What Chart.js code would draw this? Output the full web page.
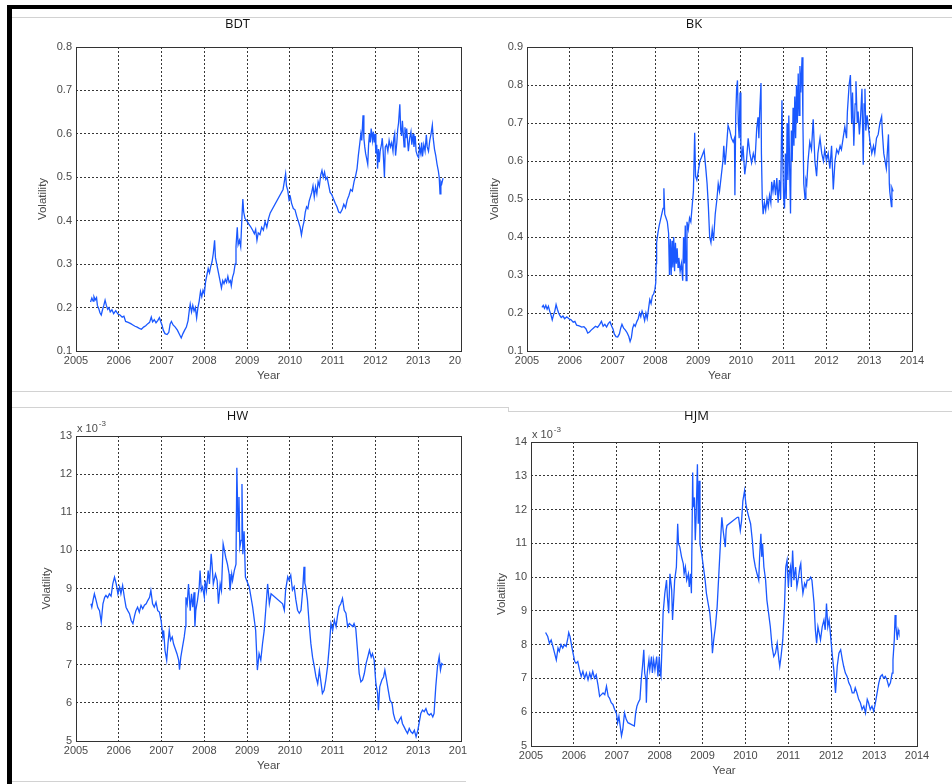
<!DOCTYPE html>
<html>
<head>
<meta charset="utf-8">
<script src="https://cdn.jsdelivr.net/npm/chart.js@4.4.1/dist/chart.umd.min.js"></script>
<style>
  html, body { margin: 0; padding: 0; background: #fff; }
  body { width: 952px; height: 784px; position: relative; overflow: hidden; }
  .bar { position: absolute; background: #000; }
  .rule { position: absolute; background: #d2d2d2; }
  .panel { position: absolute; overflow: hidden; }
  canvas { display: block; }
</style>
</head>
<body>
<!-- outer frame and separators of the composite figure -->
<div class="bar" style="left:7px;top:5px;width:945px;height:4px"></div>
<div class="bar" style="left:7px;top:5px;width:5px;height:779px"></div>
<div class="rule" style="left:12px;top:17px;width:940px;height:1px"></div>
<div class="rule" style="left:12px;top:391px;width:940px;height:1px"></div>
<div class="rule" style="left:12px;top:407px;width:496px;height:1px"></div>
<div class="rule" style="left:508px;top:407px;width:1px;height:5px"></div>
<div class="rule" style="left:508px;top:411px;width:444px;height:1px"></div>
<div class="rule" style="left:12px;top:781px;width:454px;height:1px"></div>

<div class="panel" style="left:14px;top:10px;width:448px;height:380px"><canvas id="cBDT" width="475" height="380"></canvas></div>
<div class="panel" style="left:476px;top:10px;width:475px;height:380px"><canvas id="cBK" width="475" height="380"></canvas></div>
<div class="panel" style="left:14px;top:400px;width:453px;height:380px"><canvas id="cHW" width="480" height="380"></canvas></div>
<div class="panel" style="left:476px;top:400px;width:465px;height:384px"><canvas id="cHJM" width="465" height="385"></canvas></div>

<script>
// ---- BDT volatility ----
const bdtYears = [2005.34,2005.37,2005.40,2005.42,2005.45,2005.48,2005.50,2005.53,2005.56,2005.59,2005.62,2005.65,2005.68,2005.71,2005.74,2005.77,2005.80,2005.84,2005.88,2005.93,2005.98,2006.03,2006.08,2006.12,2006.16,2006.22,2006.28,2006.33,2006.38,2006.43,2006.48,2006.53,2006.58,2006.63,2006.68,2006.72,2006.76,2006.79,2006.83,2006.87,2006.91,2006.95,2006.98,2007.01,2007.04,2007.08,2007.13,2007.17,2007.20,2007.23,2007.27,2007.32,2007.37,2007.42,2007.46,2007.50,2007.54,2007.58,2007.62,2007.65,2007.67,2007.70,2007.73,2007.76,2007.79,2007.82,2007.85,2007.88,2007.91,2007.94,2007.97,2008.00,2008.03,2008.06,2008.09,2008.12,2008.15,2008.18,2008.21,2008.24,2008.26,2008.29,2008.32,2008.35,2008.38,2008.40,2008.43,2008.46,2008.49,2008.52,2008.55,2008.58,2008.61,2008.63,2008.66,2008.69,2008.72,2008.74,2008.77,2008.79,2008.82,2008.85,2008.88,2008.90,2008.92,2008.95,2008.99,2009.04,2009.09,2009.13,2009.17,2009.20,2009.23,2009.26,2009.30,2009.34,2009.38,2009.42,2009.46,2009.50,2009.54,2009.84,2009.87,2009.90,2009.92,2009.95,2009.98,2010.01,2010.04,2010.08,2010.12,2010.16,2010.20,2010.24,2010.27,2010.30,2010.33,2010.36,2010.39,2010.42,2010.45,2010.48,2010.51,2010.54,2010.57,2010.60,2010.63,2010.66,2010.69,2010.72,2010.75,2010.78,2010.81,2010.84,2010.87,2010.90,2010.94,2010.98,2011.02,2011.06,2011.10,2011.14,2011.18,2011.22,2011.26,2011.30,2011.34,2011.38,2011.42,2011.46,2011.50,2011.54,2011.57,2011.60,2011.63,2011.66,2011.68,2011.71,2011.73,2011.75,2011.77,2011.79,2011.82,2011.84,2011.86,2011.88,2011.90,2011.93,2011.95,2011.97,2011.99,2012.01,2012.03,2012.05,2012.07,2012.09,2012.11,2012.14,2012.16,2012.18,2012.21,2012.23,2012.26,2012.29,2012.32,2012.35,2012.38,2012.41,2012.43,2012.45,2012.47,2012.50,2012.52,2012.54,2012.57,2012.59,2012.61,2012.63,2012.65,2012.67,2012.69,2012.71,2012.73,2012.75,2012.77,2012.80,2012.83,2012.85,2012.88,2012.90,2012.93,2012.95,2012.98,2013.01,2013.03,2013.06,2013.08,2013.10,2013.13,2013.16,2013.19,2013.21,2013.24,2013.27,2013.30,2013.33,2013.35,2013.38,2013.41,2013.44,2013.47,2013.49,2013.51,2013.53,2013.55,2013.58];
const bdtVol = [0.213,0.222,0.215,0.225,0.218,0.223,0.205,0.198,0.188,0.183,0.195,0.205,0.217,0.205,0.196,0.200,0.190,0.195,0.186,0.193,0.185,0.183,0.178,0.180,0.168,0.166,0.163,0.160,0.157,0.155,0.152,0.150,0.155,0.158,0.163,0.166,0.178,0.167,0.172,0.165,0.170,0.177,0.168,0.160,0.148,0.140,0.138,0.143,0.162,0.168,0.160,0.155,0.148,0.138,0.130,0.140,0.148,0.155,0.170,0.195,0.208,0.190,0.205,0.192,0.200,0.176,0.200,0.215,0.237,0.225,0.240,0.232,0.260,0.275,0.290,0.280,0.295,0.305,0.325,0.355,0.315,0.300,0.285,0.270,0.255,0.245,0.262,0.255,0.265,0.258,0.272,0.258,0.262,0.250,0.270,0.280,0.300,0.340,0.385,0.345,0.355,0.340,0.410,0.450,0.420,0.405,0.400,0.392,0.385,0.378,0.370,0.380,0.355,0.372,0.368,0.385,0.378,0.398,0.385,0.405,0.418,0.472,0.490,0.508,0.480,0.470,0.448,0.455,0.440,0.428,0.425,0.410,0.398,0.385,0.367,0.385,0.398,0.420,0.432,0.428,0.445,0.455,0.465,0.480,0.455,0.478,0.462,0.490,0.480,0.505,0.516,0.500,0.512,0.495,0.500,0.485,0.465,0.460,0.450,0.440,0.432,0.420,0.418,0.425,0.438,0.430,0.448,0.458,0.472,0.468,0.490,0.505,0.520,0.550,0.575,0.600,0.585,0.643,0.590,0.570,0.555,0.545,0.530,0.575,0.600,0.580,0.612,0.585,0.605,0.580,0.600,0.555,0.575,0.520,0.565,0.535,0.560,0.575,0.590,0.560,0.500,0.570,0.575,0.560,0.585,0.570,0.580,0.560,0.590,0.600,0.550,0.580,0.610,0.625,0.668,0.610,0.595,0.630,0.600,0.570,0.615,0.590,0.612,0.585,0.560,0.590,0.605,0.575,0.600,0.570,0.595,0.560,0.550,0.545,0.570,0.555,0.580,0.548,0.575,0.560,0.598,0.570,0.560,0.585,0.600,0.620,0.590,0.565,0.550,0.530,0.515,0.500,0.462,0.490,0.485,0.498];

// ---- BK volatility ----
const bkYears = [2005.35,2005.38,2005.41,2005.44,2005.47,2005.50,2005.53,2005.56,2005.59,2005.62,2005.65,2005.68,2005.71,2005.74,2005.77,2005.80,2005.84,2005.88,2005.93,2005.98,2006.03,2006.08,2006.12,2006.16,2006.22,2006.28,2006.33,2006.38,2006.42,2006.46,2006.50,2006.55,2006.60,2006.65,2006.70,2006.74,2006.78,2006.82,2006.86,2006.90,2006.94,2006.98,2007.01,2007.04,2007.08,2007.12,2007.16,2007.19,2007.22,2007.26,2007.30,2007.34,2007.38,2007.41,2007.44,2007.47,2007.50,2007.53,2007.57,2007.60,2007.63,2007.66,2007.69,2007.72,2007.75,2007.78,2007.81,2007.84,2007.87,2007.90,2007.93,2007.96,2007.99,2008.01,2008.02,2008.03,2008.06,2008.09,2008.12,2008.15,2008.18,2008.20,2008.22,2008.25,2008.28,2008.31,2008.33,2008.35,2008.37,2008.39,2008.41,2008.43,2008.45,2008.47,2008.49,2008.51,2008.53,2008.55,2008.58,2008.61,2008.64,2008.66,2008.68,2008.70,2008.72,2008.74,2008.77,2008.80,2008.83,2008.86,2008.89,2008.92,2008.94,2008.97,2009.00,2009.04,2009.08,2009.14,2009.18,2009.21,2009.24,2009.27,2009.30,2009.33,2009.36,2009.40,2009.44,2009.47,2009.50,2009.54,2009.58,2009.60,2009.63,2009.66,2009.70,2009.74,2009.78,2009.82,2009.85,2009.86,2009.88,2009.90,2009.92,2009.94,2009.96,2009.98,2010.00,2010.02,2010.05,2010.09,2010.13,2010.17,2010.21,2010.25,2010.29,2010.33,2010.37,2010.40,2010.42,2010.44,2010.47,2010.48,2010.50,2010.52,2010.55,2010.58,2010.61,2010.64,2010.67,2010.70,2010.72,2010.75,2010.78,2010.81,2010.84,2010.87,2010.90,2010.93,2010.96,2010.98,2011.00,2011.02,2011.04,2011.06,2011.08,2011.10,2011.12,2011.14,2011.16,2011.18,2011.20,2011.22,2011.24,2011.26,2011.28,2011.30,2011.32,2011.34,2011.36,2011.38,2011.40,2011.43,2011.45,2011.47,2011.50,2011.52,2011.54,2011.57,2011.61,2011.65,2011.69,2011.73,2011.77,2011.80,2011.85,2011.89,2011.93,2011.96,2012.00,2012.04,2012.08,2012.12,2012.16,2012.20,2012.24,2012.28,2012.32,2012.35,2012.39,2012.43,2012.47,2012.49,2012.53,2012.56,2012.59,2012.61,2012.64,2012.67,2012.69,2012.72,2012.74,2012.77,2012.80,2012.83,2012.86,2012.88,2012.90,2012.92,2012.95,2013.00,2013.02,2013.06,2013.10,2013.13,2013.17,2013.21,2013.25,2013.29,2013.31,2013.34,2013.37,2013.40,2013.45,2013.47,2013.48,2013.52,2013.53,2013.56,2013.58];
const bkVol = [0.215,0.220,0.212,0.220,0.210,0.218,0.205,0.195,0.182,0.195,0.205,0.222,0.210,0.200,0.193,0.188,0.192,0.185,0.190,0.185,0.182,0.176,0.178,0.168,0.166,0.163,0.164,0.158,0.147,0.150,0.155,0.160,0.165,0.162,0.170,0.178,0.165,0.170,0.163,0.172,0.177,0.165,0.158,0.145,0.138,0.137,0.145,0.160,0.170,0.160,0.155,0.148,0.138,0.125,0.135,0.160,0.170,0.165,0.178,0.185,0.200,0.190,0.205,0.195,0.180,0.200,0.185,0.210,0.235,0.225,0.245,0.250,0.262,0.280,0.330,0.385,0.410,0.430,0.445,0.460,0.475,0.528,0.460,0.450,0.440,0.410,0.300,0.395,0.300,0.390,0.320,0.400,0.310,0.385,0.330,0.370,0.320,0.345,0.310,0.330,0.285,0.400,0.330,0.430,0.285,0.440,0.420,0.450,0.440,0.480,0.520,0.674,0.560,0.550,0.570,0.600,0.610,0.628,0.580,0.540,0.480,0.400,0.385,0.420,0.390,0.460,0.500,0.540,0.520,0.560,0.600,0.640,0.590,0.630,0.694,0.680,0.660,0.650,0.660,0.510,0.720,0.790,0.812,0.700,0.660,0.780,0.640,0.600,0.640,0.565,0.600,0.660,0.620,0.595,0.620,0.600,0.686,0.715,0.660,0.730,0.805,0.620,0.500,0.460,0.490,0.470,0.500,0.480,0.510,0.490,0.545,0.520,0.550,0.510,0.555,0.490,0.550,0.500,0.760,0.600,0.500,0.475,0.620,0.500,0.700,0.550,0.720,0.580,0.462,0.680,0.600,0.740,0.640,0.770,0.660,0.800,0.700,0.830,0.720,0.850,0.780,0.873,0.700,0.540,0.500,0.550,0.540,0.600,0.650,0.630,0.710,0.600,0.560,0.620,0.660,0.620,0.600,0.630,0.600,0.620,0.580,0.640,0.525,0.600,0.630,0.620,0.640,0.630,0.660,0.690,0.660,0.730,0.800,0.826,0.700,0.780,0.640,0.750,0.810,0.700,0.730,0.670,0.720,0.790,0.590,0.750,0.790,0.680,0.720,0.670,0.650,0.620,0.640,0.620,0.660,0.670,0.700,0.717,0.670,0.620,0.600,0.580,0.670,0.540,0.520,0.480,0.530,0.520];

// ---- HW volatility (x 10^-3) ----
const hwYears = [2005.35,2005.37,2005.40,2005.43,2005.47,2005.51,2005.55,2005.59,2005.63,2005.67,2005.70,2005.74,2005.78,2005.82,2005.86,2005.90,2005.94,2005.98,2006.02,2006.05,2006.09,2006.13,2006.17,2006.21,2006.25,2006.29,2006.33,2006.37,2006.40,2006.44,2006.48,2006.52,2006.56,2006.60,2006.64,2006.68,2006.72,2006.75,2006.79,2006.83,2006.87,2006.91,2006.95,2006.99,2007.03,2007.05,2007.08,2007.12,2007.15,2007.18,2007.21,2007.25,2007.28,2007.32,2007.36,2007.40,2007.42,2007.45,2007.49,2007.53,2007.56,2007.57,2007.60,2007.63,2007.67,2007.70,2007.73,2007.76,2007.78,2007.80,2007.84,2007.88,2007.90,2007.93,2007.96,2008.00,2008.02,2008.05,2008.09,2008.12,2008.16,2008.18,2008.21,2008.26,2008.30,2008.33,2008.37,2008.40,2008.44,2008.47,2008.50,2008.54,2008.58,2008.60,2008.64,2008.66,2008.70,2008.74,2008.76,2008.79,2008.81,2008.83,2008.86,2008.88,2008.90,2008.93,2008.96,2008.99,2009.05,2009.13,2009.20,2009.24,2009.28,2009.32,2009.36,2009.40,2009.44,2009.48,2009.52,2009.56,2009.83,2009.87,2009.90,2009.95,2009.98,2010.02,2010.06,2010.10,2010.14,2010.18,2010.22,2010.26,2010.30,2010.33,2010.35,2010.37,2010.41,2010.45,2010.49,2010.53,2010.57,2010.61,2010.65,2010.69,2010.72,2010.76,2010.80,2010.84,2010.88,2010.92,2010.96,2011.00,2011.04,2011.08,2011.11,2011.15,2011.19,2011.23,2011.27,2011.31,2011.35,2011.39,2011.43,2011.47,2011.50,2011.54,2011.58,2011.62,2011.66,2011.70,2011.74,2011.78,2011.82,2011.86,2011.90,2011.93,2011.97,2012.01,2012.05,2012.07,2012.10,2012.15,2012.19,2012.22,2012.26,2012.30,2012.34,2012.39,2012.42,2012.46,2012.52,2012.56,2012.60,2012.63,2012.67,2012.71,2012.75,2012.79,2012.83,2012.87,2012.91,2012.95,2012.99,2013.02,2013.06,2013.10,2013.14,2013.18,2013.22,2013.26,2013.30,2013.34,2013.37,2013.41,2013.45,2013.49,2013.52,2013.55,2013.59];
const hwVol = [8.60,8.51,8.70,8.86,8.69,8.50,8.42,8.12,8.60,8.77,8.82,8.76,8.86,8.80,9.12,9.30,9.12,8.86,9.04,8.86,9.08,8.77,8.51,8.42,8.34,8.16,8.08,8.29,8.42,8.51,8.38,8.56,8.47,8.56,8.60,8.69,8.77,8.95,8.60,8.51,8.64,8.42,8.38,8.16,7.73,7.90,7.38,7.12,7.55,7.90,7.64,7.73,7.55,7.42,7.29,7.12,6.87,7.20,7.47,7.73,8.00,8.77,8.60,9.12,8.42,8.86,8.51,8.90,8.00,8.42,8.69,9.04,9.47,8.95,9.04,8.77,9.21,8.95,9.47,9.12,9.91,9.64,9.12,9.38,9.21,8.60,9.12,8.95,10.17,10.00,9.82,9.64,9.38,8.95,9.38,9.21,9.47,9.64,12.17,10.50,11.40,10.08,10.26,11.74,9.90,10.50,9.30,9.21,9.04,8.51,7.90,6.86,7.29,7.12,7.55,7.90,8.51,9.12,8.60,8.86,8.60,8.43,8.96,9.31,9.22,9.35,8.96,9.05,8.70,8.43,8.35,8.43,8.96,9.57,9.14,9.05,8.70,8.08,7.56,7.20,6.95,6.68,6.50,6.86,6.60,6.25,6.33,6.60,6.95,7.47,8.08,7.90,8.17,8.00,8.26,8.52,8.60,8.74,8.43,8.35,8.00,8.08,8.04,8.00,8.08,7.95,7.38,6.77,6.55,6.60,6.77,7.03,7.20,7.38,7.20,7.29,7.12,6.51,6.25,5.81,6.42,6.60,6.68,6.86,6.60,6.33,6.07,5.98,5.72,5.55,5.46,5.55,5.63,5.46,5.37,5.28,5.20,5.33,5.24,5.20,5.28,5.11,5.28,5.46,5.72,5.81,5.77,5.85,5.72,5.68,5.72,5.63,5.72,6.42,6.95,7.21,6.86,7.03,6.99];

// ---- HJM volatility (x 10^-3) ----
const hjmYears = [2005.34,2005.39,2005.43,2005.47,2005.51,2005.55,2005.59,2005.63,2005.66,2005.70,2005.74,2005.78,2005.82,2005.86,2005.88,2005.91,2005.95,2005.98,2006.02,2006.05,2006.09,2006.13,2006.17,2006.21,2006.25,2006.29,2006.33,2006.37,2006.40,2006.44,2006.48,2006.52,2006.56,2006.60,2006.64,2006.68,2006.72,2006.76,2006.80,2006.83,2006.87,2006.91,2006.95,2006.99,2007.02,2007.05,2007.08,2007.11,2007.14,2007.18,2007.22,2007.26,2007.41,2007.44,2007.47,2007.50,2007.54,2007.57,2007.60,2007.63,2007.65,2007.68,2007.69,2007.71,2007.75,2007.77,2007.81,2007.83,2007.86,2007.89,2007.93,2007.96,2007.99,2008.01,2008.03,2008.07,2008.08,2008.12,2008.16,2008.18,2008.21,2008.24,2008.28,2008.30,2008.33,2008.35,2008.39,2008.42,2008.44,2008.47,2008.51,2008.55,2008.57,2008.60,2008.63,2008.67,2008.69,2008.72,2008.74,2008.77,2008.78,2008.81,2008.83,2008.85,2008.88,2008.90,2008.92,2008.94,2008.98,2009.02,2009.06,2009.09,2009.13,2009.17,2009.21,2009.23,2009.26,2009.30,2009.34,2009.38,2009.42,2009.45,2009.48,2009.51,2009.53,2009.55,2009.57,2009.81,2009.84,2009.88,2009.91,2009.94,2009.98,2010.01,2010.04,2010.08,2010.12,2010.16,2010.19,2010.23,2010.27,2010.31,2010.33,2010.36,2010.38,2010.40,2010.43,2010.47,2010.50,2010.54,2010.58,2010.62,2010.66,2010.70,2010.74,2010.78,2010.80,2010.83,2010.87,2010.91,2010.94,2010.97,2011.00,2011.02,2011.05,2011.07,2011.10,2011.13,2011.17,2011.20,2011.24,2011.27,2011.29,2011.31,2011.34,2011.38,2011.41,2011.44,2011.48,2011.52,2011.55,2011.60,2011.63,2011.66,2011.69,2011.72,2011.75,2011.79,2011.83,2011.86,2011.89,2011.92,2011.95,2011.98,2012.02,2012.06,2012.10,2012.14,2012.18,2012.22,2012.26,2012.29,2012.33,2012.37,2012.41,2012.45,2012.49,2012.53,2012.56,2012.60,2012.64,2012.68,2012.72,2012.76,2012.80,2012.84,2012.87,2012.91,2012.95,2012.99,2013.03,2013.07,2013.11,2013.15,2013.19,2013.22,2013.26,2013.30,2013.34,2013.38,2013.42,2013.44,2013.47,2013.49,2013.51,2013.54,2013.56,2013.58];
const hjmVol = [8.36,8.24,8.04,8.14,7.95,7.75,7.55,7.90,7.80,8.00,7.90,8.00,7.95,8.20,8.36,8.24,7.95,7.75,7.50,7.45,7.50,7.26,7.06,7.21,7.01,7.16,6.96,7.16,7.01,7.21,7.01,7.11,6.82,6.47,6.52,6.57,6.52,6.77,6.47,6.42,6.28,6.23,6.08,5.98,5.69,5.88,5.59,5.30,5.49,5.98,5.79,5.69,5.59,5.98,6.18,6.28,6.38,6.96,7.36,7.85,7.16,6.96,6.28,7.16,7.55,7.26,7.65,7.16,7.55,7.26,7.65,7.06,7.65,7.16,7.06,8.53,8.93,9.52,9.91,9.42,8.93,10.10,9.62,8.73,9.42,9.91,10.30,11.58,10.99,10.89,10.60,10.40,10.10,10.30,9.91,10.10,9.71,10.10,9.52,13.10,12.07,12.36,11.09,11.77,13.34,11.58,12.85,10.99,10.69,10.30,9.91,9.52,9.22,8.93,8.34,7.75,8.14,8.53,9.12,10.10,11.09,11.77,11.38,11.09,10.89,11.40,11.53,11.77,11.77,11.38,11.67,12.26,12.56,12.17,11.97,11.77,11.58,11.09,10.60,10.30,10.10,9.91,10.60,11.28,10.60,10.99,10.30,9.91,9.32,8.93,8.53,7.95,7.65,7.75,8.04,7.55,7.36,7.65,8.14,9.12,10.30,10.50,9.71,10.10,10.30,9.71,10.79,9.91,10.30,9.71,10.01,10.30,10.40,9.91,9.52,9.81,9.71,9.91,9.91,10.00,9.91,9.22,8.44,8.04,8.53,8.34,8.14,8.53,8.73,8.44,9.22,8.53,8.73,8.34,7.75,7.26,6.57,7.36,7.75,7.85,7.55,7.36,7.16,7.06,6.87,6.77,6.57,6.57,6.72,6.57,6.38,6.28,6.08,6.18,5.98,6.38,6.28,6.08,6.18,6.03,6.28,6.57,6.87,7.06,7.11,7.01,7.06,6.96,6.77,6.87,7.16,7.55,8.14,8.88,8.53,8.14,8.44,8.34];

const LINE = '#1a58ff';
const TICK = '#4a4a4a';
const GRID = 'rgba(20,20,20,0.85)';
const FRAME = '#333';
const TICK_FONT = { family: "'Liberation Sans', Arial, sans-serif", size: 11 };
const AXIS_FONT = { family: "'Liberation Sans', Arial, sans-serif", size: 11.5 };

// solid box around the plotting area, drawn over the dotted grid
const boxPlugin = {
  id: 'axesBox',
  afterDatasetsDraw(chart) {
    const { ctx, chartArea: a } = chart;
    ctx.save();
    ctx.strokeStyle = FRAME;
    ctx.lineWidth = 1;
    ctx.strokeRect(Math.round(a.left) + 0.5, Math.round(a.top) + 0.5,
                   Math.round(a.right - a.left), Math.round(a.bottom - a.top));
    ctx.restore();
  }
};

// "x 10^-3" multiplier written above the top-left corner of the axes
const exponentPlugin = {
  id: 'exponent',
  afterDraw(chart, args, opts) {
    if (!opts || !opts.text) return;
    const { ctx, chartArea: a } = chart;
    ctx.save();
    ctx.fillStyle = TICK;
    ctx.textBaseline = 'alphabetic';
    ctx.font = "11px 'Liberation Sans', Arial, sans-serif";
    const base = a.top - 4.5;
    ctx.fillText(opts.text, a.left + 1, base);
    const w = ctx.measureText(opts.text).width;
    ctx.font = "8px 'Liberation Sans', Arial, sans-serif";
    ctx.fillText(opts.sup, a.left + 2 + w, base - 6);
    ctx.restore();
  }
};

function makePanel(id, p) {
  return new Chart(document.getElementById(id), {
    type: 'line',
    data: {
      datasets: [{
        data: p.years.map((x, i) => ({ x, y: p.vals[i] })),
        borderColor: LINE,
        borderWidth: 1.3,
        pointRadius: 0,
        tension: 0,
        fill: false
      }]
    },
    options: {
      responsive: false,
      animation: false,
      devicePixelRatio: 1,
      events: [],
      layout: { padding: { left: 0, right: p.padRight, top: 0, bottom: 0 } },
      plugins: {
        legend: { display: false },
        tooltip: { enabled: false },
        title: {
          display: true,
          text: p.title,
          color: '#111',
          font: { family: "'Open Sans', sans-serif", size: 13, weight: 'normal' },
          padding: { top: p.titleTop, bottom: p.titleBottom }
        },
        exponent: p.exponent || {}
      },
      scales: {
        x: {
          type: 'linear',
          min: 2005, max: 2014,
          afterFit: s => { s.height = p.xHeight; },
          ticks: {
            stepSize: 1, autoSkip: false, maxRotation: 0,
            color: TICK, font: TICK_FONT, padding: 3,
            callback: v => String(v)
          },
          grid: { color: GRID, lineWidth: 1, drawTicks: false },
          border: { display: false, dash: [2, 2] },
          title: { display: true, text: 'Year', color: TICK, font: AXIS_FONT,
                   padding: { top: 0, bottom: p.xTitlePad } }
        },
        y: {
          min: p.yMin, max: p.yMax,
          afterFit: s => { s.width = p.yWidth; },
          ticks: {
            stepSize: p.yStep, autoSkip: false,
            color: TICK, font: TICK_FONT, padding: 4,
            callback: v => v.toFixed(p.dec)
          },
          grid: { color: GRID, lineWidth: 1, drawTicks: false },
          border: { display: false, dash: [2, 2] },
          title: { display: true, text: 'Volatility', color: TICK, font: AXIS_FONT,
                   padding: { top: p.yTitlePad, bottom: 0 } }
        }
      }
    },
    plugins: [boxPlugin, exponentPlugin]
  });
}

makePanel('cBDT', {
  title: 'BDT', years: bdtYears, vals: bdtVol,
  yMin: 0.1, yMax: 0.8, yStep: 0.1, dec: 1,
  yWidth: 62, padRight: 28, xHeight: 39,
  titleTop: 6.2, titleBottom: 15.2, xTitlePad: 7.1, yTitlePad: 21.9
});
makePanel('cBK', {
  title: 'BK', years: bkYears, vals: bkVol,
  yMin: 0.1, yMax: 0.9, yStep: 0.1, dec: 1,
  yWidth: 51, padRight: 39, xHeight: 39,
  titleTop: 6.2, titleBottom: 15.2, xTitlePad: 7.1, yTitlePad: 11.6
});
makePanel('cHW', {
  title: 'HW', years: hwYears, vals: hwVol,
  yMin: 5, yMax: 13, yStep: 1, dec: 0,
  yWidth: 62, padRight: 33, xHeight: 39,
  titleTop: 8.2, titleBottom: 12.2, xTitlePad: 7.1, yTitlePad: 25.8,
  exponent: { text: 'x 10', sup: '-3' }
});
makePanel('cHJM', {
  title: 'HJM', years: hjmYears, vals: hjmVol,
  yMin: 5, yMax: 14, yStep: 1, dec: 0,
  yWidth: 55, padRight: 24, xHeight: 39,
  titleTop: 8.2, titleBottom: 18.2, xTitlePad: 7.4, yTitlePad: 19.1,
  exponent: { text: 'x 10', sup: '-3' }
});
</script>
</body>
</html>
